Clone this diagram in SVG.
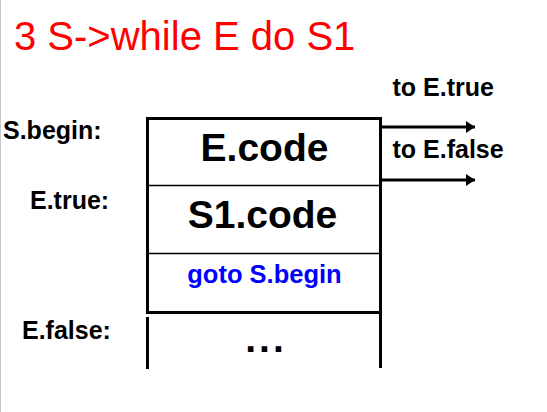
<svg xmlns="http://www.w3.org/2000/svg" width="547" height="412" viewBox="0 0 547 412">
  <style>
    .lbl { font-family: "Liberation Sans", Arial, sans-serif; font-weight: bold; font-size: 25px; fill: #000; }
    .code { font-family: "Liberation Sans", Arial, sans-serif; font-weight: bold; font-size: 39px; fill: #000; text-anchor: middle; }
    .goto { font-family: "Liberation Sans", Arial, sans-serif; font-weight: bold; font-size: 25.5px; fill: #0000FF; text-anchor: middle; }
    .thick { stroke: #000; stroke-width: 3; fill: none; }
    .thin { stroke: #000; stroke-width: 1.4; fill: none; }
    .arrow { stroke: #000; stroke-width: 3; fill: none; marker-end: url(#ah); }
  </style>
  <defs>
    <marker id="ah" markerUnits="userSpaceOnUse" markerWidth="10" markerHeight="13" refX="9" refY="6" orient="auto">
      <path d="M0,0 L9,6 L0,12 Z" fill="#000"/>
    </marker>
  </defs>
  <rect x="0" y="0" width="547" height="412" fill="#fff"/>
  <line x1="0.5" y1="0" x2="0.5" y2="412" stroke="#c8c8c8" stroke-width="1"/>

  <g id="title">
    <text x="14" y="50" font-family="Liberation Sans, Arial, sans-serif" font-size="40" fill="#FF0000">3 S-&gt;while E do S1</text>
  </g>

  <g id="label-sbegin"><text class="lbl" x="3" y="139" font-size="26">S.begin:</text></g>
  <g id="label-etrue"><text class="lbl" x="30" y="209">E.true:</text></g>
  <g id="label-efalse"><text class="lbl" x="22" y="339">E.false:</text></g>

  <g id="block">
    <rect class="thick" x="147.5" y="118.5" width="233" height="194"/>
  </g>
  <g id="ecode">
    <text class="code" x="264.5" y="161">E.code</text>
  </g>
  <g id="s1code">
    <line class="thin" x1="147.5" y1="185.5" x2="380.5" y2="185.5"/>
    <text class="code" x="262.5" y="228">S1.code</text>
  </g>
  <g id="goto">
    <line class="thin" x1="147.5" y1="253.5" x2="380.5" y2="253.5"/>
    <text class="goto" x="264.5" y="283">goto S.begin</text>
  </g>
  <g id="rest">
    <line class="thick" x1="147.5" y1="317" x2="147.5" y2="369"/>
    <line class="thick" x1="380.5" y1="312" x2="380.5" y2="368"/>
    <text class="code" x="266" y="352" letter-spacing="3">...</text>
  </g>

  <g id="connectors">
    <line class="arrow" x1="382" y1="127" x2="475" y2="127"/>
    <line class="arrow" x1="382" y1="180" x2="475" y2="180"/>
  </g>
  <g id="label-totrue"><text class="lbl" x="392.5" y="96">to E.true</text></g>
  <g id="label-tofalse"><text class="lbl" x="392.5" y="158">to E.false</text></g>
</svg>
